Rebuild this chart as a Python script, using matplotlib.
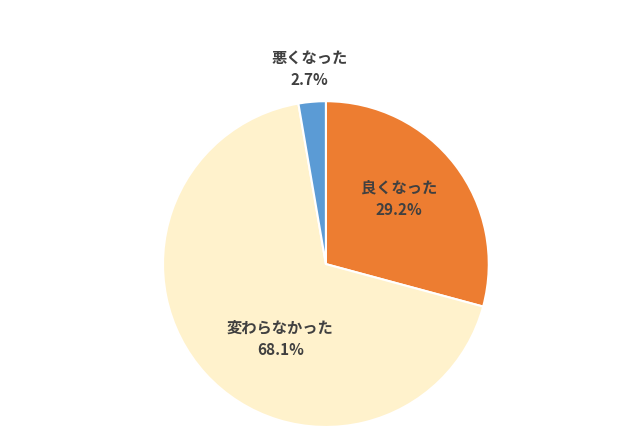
import matplotlib
matplotlib.use("Agg")
import matplotlib.pyplot as plt

plt.rcParams['font.family'] = ['Noto Sans CJK JP', 'DejaVu Sans']

labels = ["良くなった", "変わらなかった", "悪くなった"]
values = [29.2, 68.1, 2.7]
colors = ["#ED7D31", "#FFF2CC", "#5B9BD5"]
label_pos = [(0.45, 0.40), (-0.28, -0.46), (-0.10, 1.20)]

fig = plt.figure(figsize=(6.4, 4.47), dpi=100)
ax = fig.add_axes([0.2547, 0.0447, 0.509, 0.729])
ax.pie(values, colors=colors, startangle=90, counterclock=False,
       wedgeprops=dict(edgecolor="white", linewidth=1.5))
for lab, v, (x, y) in zip(labels, values, label_pos):
    ax.text(x, y, f"{lab}\n{v:.1f}%", ha="center", va="center",
            fontsize=11, fontweight="bold", color="#404040", linespacing=1.5)
ax.set_xlim(-1, 1)
ax.set_ylim(-1, 1)
ax.set_aspect("equal")
fig.savefig("out.png", dpi=100)
